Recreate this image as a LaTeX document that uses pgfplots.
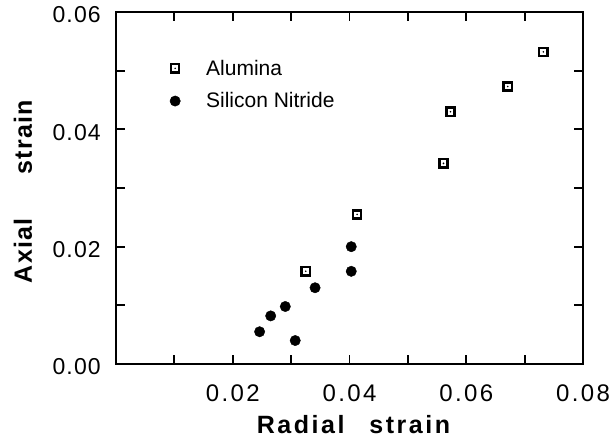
\documentclass[border=0pt]{standalone}
\usepackage{fontspec}
\setmainfont{Liberation Sans}
\newfontfamily\xtickfont[LetterSpace=10]{Liberation Sans}
\newfontfamily\ytickfont[LetterSpace=5]{Liberation Sans}
\newfontfamily\labfont[LetterSpace=10]{Liberation Sans}
\newfontfamily\ylabfont[LetterSpace=5]{Liberation Sans}
\usepackage{pgfplots}
\pgfplotsset{compat=1.18}
\pgfdeclareplotmark{sqdot}{%
  \pgfpathrectangle{\pgfpoint{-\pgfplotmarksize}{-\pgfplotmarksize}}{\pgfpoint{2\pgfplotmarksize}{2\pgfplotmarksize}}%
  \pgfusepathqstroke
  \pgfpathcircle{\pgfpointorigin}{0.9pt}\pgfusepathqfill}
\begin{document}
\begin{tikzpicture}
\begin{axis}[name=ax, scale only axis, width=467pt, height=352pt,
  xmin=0, xmax=0.08, ymin=0, ymax=0.06,
  axis line style={line width=2pt},
  tick style={line width=1.8pt, black},
  tick align=inside, major tick length=9pt,
  xtick={0,0.01,0.02,0.03,0.04,0.05,0.06,0.07,0.08},
  xticklabels={,,0.02,,0.04,,0.06,,0.08},
  ytick={0,0.01,0.02,0.03,0.04,0.05,0.06},
  yticklabels={0.00,,0.02,,0.04,,0.06},
  scaled ticks=false,
  xticklabel style={font=\xtickfont\fontsize{24}{28}\selectfont, inner sep=0pt, yshift=-21pt},
  yticklabel style={font=\ytickfont\fontsize{23}{27}\selectfont, inner sep=0pt, xshift=-15pt, yshift=-3pt},
  xlabel={Radial\hspace{25pt}strain},
  ylabel={Axial\hspace{44pt}strain},
  xlabel style={font=\labfont\bfseries\fontsize{25}{30}\selectfont, at={(axis description cs:0.5,0)}, anchor=base, inner sep=0pt, yshift=-69pt, xshift=4pt},
  ylabel style={font=\ylabfont\bfseries\fontsize{25}{30}\selectfont, at={(axis description cs:-0.1799,0.49)}, anchor=base, inner sep=0pt},
  legend style={draw=none, fill=none, font=\fontsize{21}{25}\selectfont, at={(axis description cs:0.092,0.87)}, anchor=north west, row sep=12pt, inner sep=0pt},
  legend cell align=left,
  legend image code/.code={\path[draw=none] (0pt,0pt) -- (45pt,0pt); \draw[#1] plot coordinates {(16pt,0pt)};},
]
\addplot[only marks, mark=sqdot, mark size=4.1pt, line width=2.4pt, black] coordinates {
  (0.0325,0.0158) (0.0413,0.0255) (0.0561,0.0342) (0.0573,0.0430) (0.0671,0.0473) (0.0732,0.0532)
};
\addlegendentry{Alumina}
\addplot[only marks, mark=*, mark size=5.2pt, black, line width=0.4pt] coordinates {
  (0.0246,0.0055) (0.0265,0.0082) (0.0290,0.0098) (0.0307,0.0040) (0.0341,0.0130) (0.0403,0.0200) (0.0403,0.0158)
};
\addlegendentry{Silicon Nitride}
\end{axis}
\pgfresetboundingbox
\path ([shift={(-116pt,-77pt)}]ax.south west) rectangle ([shift={(32pt,12pt)}]ax.north east);
\end{tikzpicture}
\end{document}
